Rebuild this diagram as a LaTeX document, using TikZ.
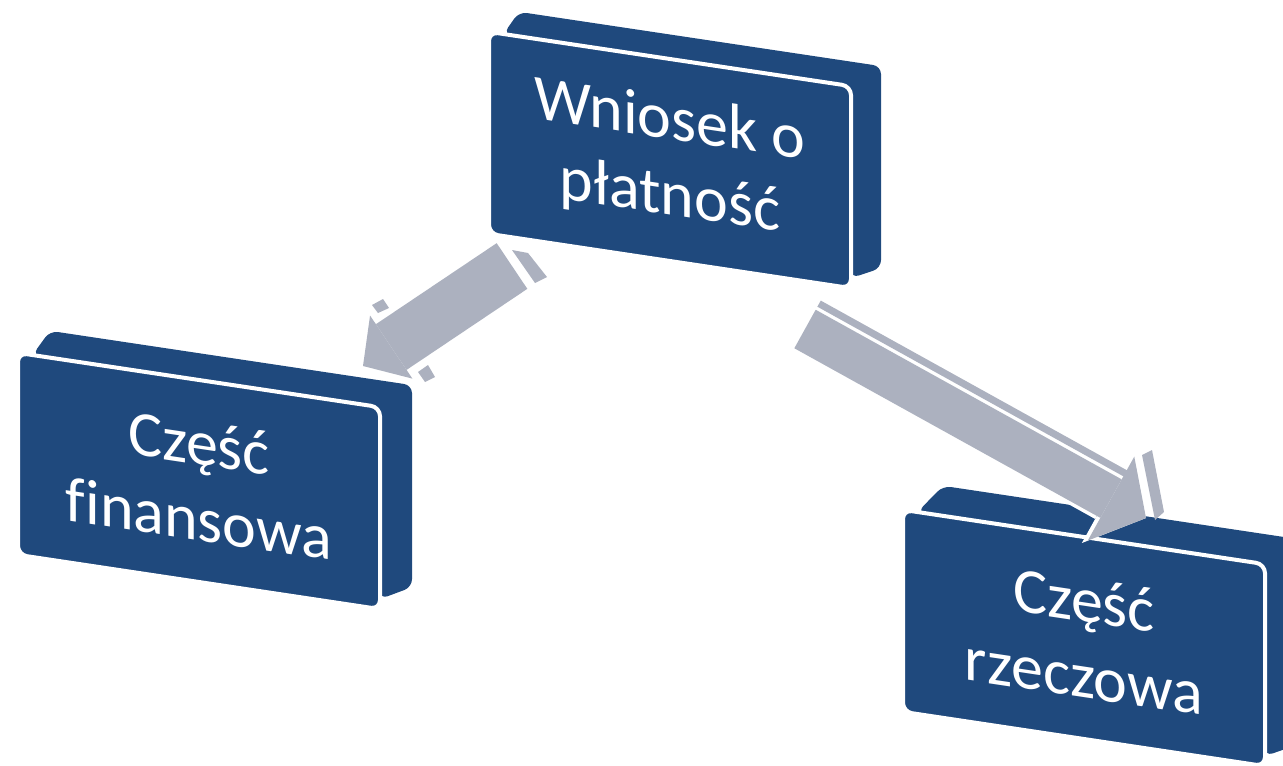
\documentclass[tikz,border=0pt]{standalone}
\usepackage{fontspec}
\setmainfont{Carlito}[Ligatures=CommonOff]
\usepackage{tikz}
\usetikzlibrary{arrows.meta}
\usetikzlibrary{backgrounds}
\usetikzlibrary{calc}
\definecolor{granat}{HTML}{1F497D}
\definecolor{szary}{HTML}{ACB1BF}
\tikzset{
	blok/.style={draw=white,line width=4pt,fill=granat,rounded corners=9pt,minimum width=362pt,minimum height=202pt,outer sep=0pt,text=white,align=center,yslant=-0.15,font=\fontsize{64}{76}\selectfont},
	bok/.style={fill=granat,rounded corners=8pt},
	kontur/.style={draw=white,line width=#1},
	trzon/.style={draw=szary,line width=#1}
}

\begin{document}
\begin{tikzpicture}[x=1pt,y=-1pt]
	\useasboundingbox (0,0) rectangle (1283,766);
	
	\node[blok] at (670,160) (wniosek) {Wniosek o\\płatność};
	\node[blok] at (199,481) (finansowa) {Część\\finansowa};
	\node[blok] at (1084,638) (rzeczowa) {Część\\rzeczowa};
	
	\begin{scope}[on background layer]
	\foreach \n/\dx/\dy in {wniosek/30/-20,finansowa/32/-22,rzeczowa/40/-24}
	\fill[bok] ($(\n.north west)!0.04!(\n.north east)$) -- ($(\n.north west)+(\dx,\dy)$) -- ($(\n.north east)+(\dx,\dy)$) -- ($(\n.south east)+(\dx,\dy)$) -- ($(\n.south east)!0.05!(\n.north east)$) -- (\n.north east) -- cycle;
	\end{scope}
	
	\coordinate (s1) at (512,266);
	\coordinate (k1) at (363,366);
	\coordinate (s2) at (805,329);
	\coordinate (k2) at (1146,518);
	\coordinate (m2) at ($(s2)!0.9!(k2)$);
	
	\draw[kontur=62pt,-{Triangle[length=38pt,width=86pt,line width=0pt]}] (s1) -- (k1);
	\draw[trzon=55pt,-{Triangle[length=34pt,width=76pt,line width=0pt]}] (s1) -- (k1);
	\fill[szary] (512,250) -- (528,253) -- (547,277) -- (535,283) -- cycle;
	\fill[szary] (372,305) -- (383,299) -- (389,308) -- (378,313) -- cycle;
	\fill[szary] (418,372) -- (428,365) -- (435,377) -- (425,382) -- cycle;
	
	\draw[kontur=51pt,-{Triangle[length=44pt,width=106pt,line width=0pt]}] (s2) -- (k2);
	\draw[trzon=44pt,-{Triangle[length=40pt,width=96pt,line width=0pt]}] (s2) -- (k2);
	\draw[trzon=7pt] ($(s2)!29pt!90:(k2)$) -- ($(m2)!29pt!90:(k2)$);
	\fill[szary] (1142,455) -- (1152,450) -- (1164,512) -- (1155,520) -- cycle;
\end{tikzpicture}
\end{document}
